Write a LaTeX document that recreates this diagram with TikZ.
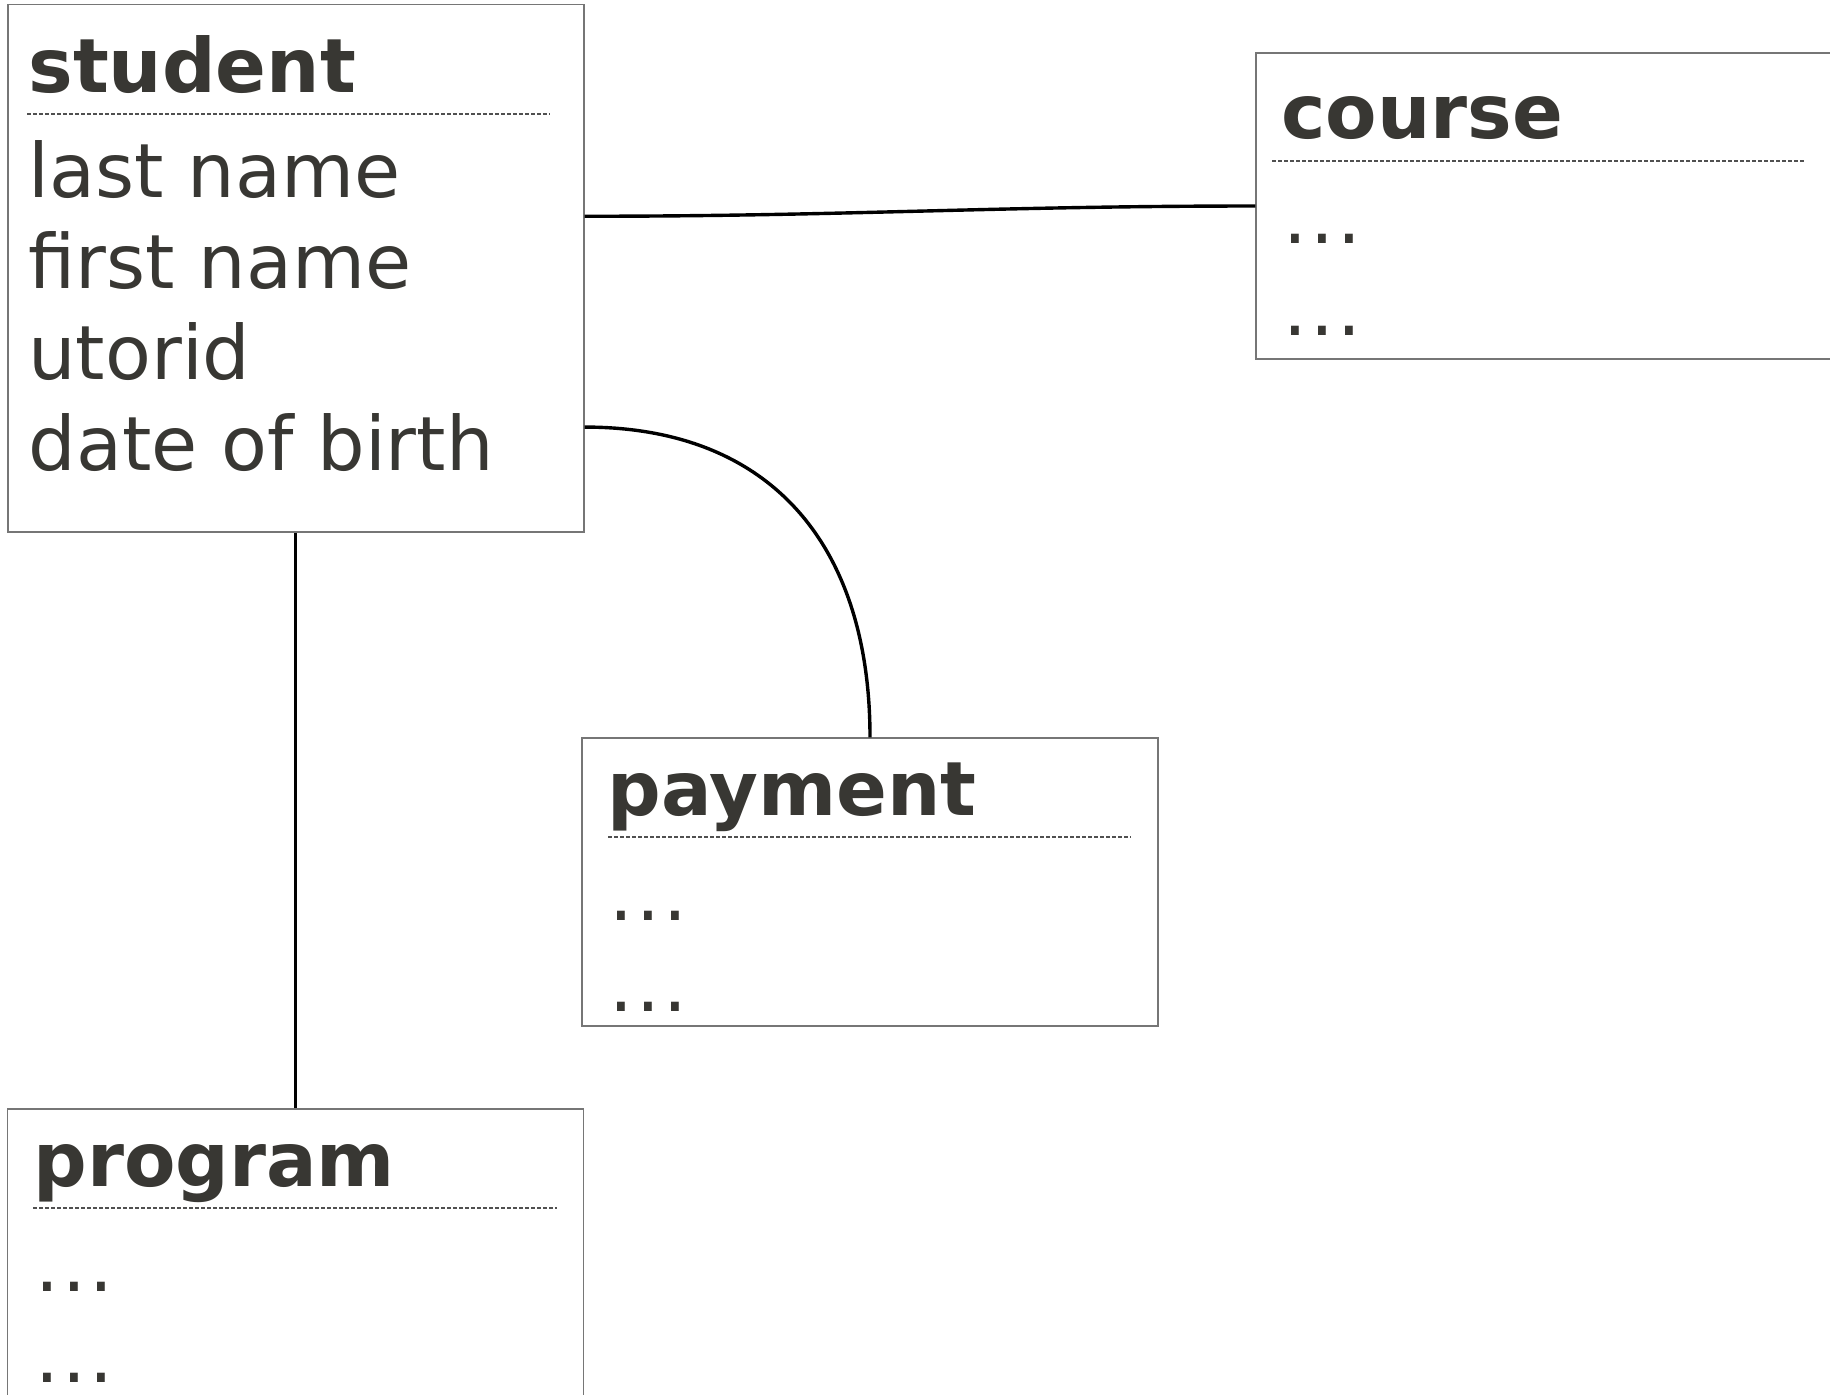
\documentclass[tikz,border=0pt]{standalone}
\usepackage{fontspec}
\setmainfont{DejaVu Sans}
\usepackage{tikz}
\usetikzlibrary{positioning}
\definecolor{entityInk}{RGB}{56,55,51}
\definecolor{entityEdge}{RGB}{118,118,118}
\definecolor{ruleGray}{RGB}{80,80,80}
\newcommand{\moredots}{.\kern1.6pt.\kern1.6pt.}

\begin{document}
\begin{tikzpicture}[
    x=0.5pt, y=-0.5pt,
    entity/.style={draw=entityEdge, line width=0.75pt, minimum width=288pt,
      inner sep=0pt},
    title/.style={anchor=base west, inner sep=0pt, text=entityInk,
      font=\fontsize{37.5}{45}\selectfont\bfseries},
    attr/.style={anchor=base west, inner sep=0pt, text=entityInk,
      font=\fontsize{37.5}{45}\selectfont},
    divider/.style={draw=ruleGray, line width=0.55pt, dash pattern=on 2pt off 1pt},
    link/.style={draw=black, line width=1.7pt}
  ]
  \clip (0,0) rectangle (1830,1394);

  % Entities
  \node[entity, minimum height=263.75pt] (student) at (295.75,268.25) {};
  \node[entity, minimum height=153pt] (course) at (1544,206) {};
  \node[entity, minimum height=144pt] (payment) at (870,882) {};
  \node[entity, minimum height=144pt] (program) at (295.5,1253) {};

  % student
  \node[title] (student-name) at (28,92) {student};
  \draw[divider] (27,114) -- (550,114);
  \node[attr] (student-last) at (28,197) {last name};
  \node[attr] (student-first) at (28,288) {first name};
  \node[attr] (student-utorid) at (28,379) {utorid};
  \node[attr] (student-dob) at (28,470) {date of birth};

  % course
  \node[title] (course-name) at (1281,138) {course};
  \draw[divider] (1272,161) -- (1804,161);
  \node[attr] (course-a) at (1283,243) {\moredots};
  \node[attr] (course-b) at (1283,335) {\moredots};

  % payment
  \node[title] (payment-name) at (607,815) {payment};
  \draw[divider] (608,837) -- (1131,837);
  \node[attr] (payment-a) at (609,920) {\moredots};
  \node[attr] (payment-b) at (609,1011) {\moredots};

  % program
  \node[title] (program-name) at (33,1186) {program};
  \draw[divider] (33,1208) -- (557,1208);
  \node[attr] (program-a) at (35,1291) {\moredots};
  \node[attr] (program-b) at (35,1382) {\moredots};

  % Relationships
  \draw[link] ([yshift=26pt]student.east) to[out=0, in=180] (course.west);
  \draw[link] ([yshift=-79.4pt]student.east) to[out=0, in=90, looseness=1.15] (payment.north);
  \draw[link] (student.south) -- (student.south |- program.north);
\end{tikzpicture}
\end{document}
